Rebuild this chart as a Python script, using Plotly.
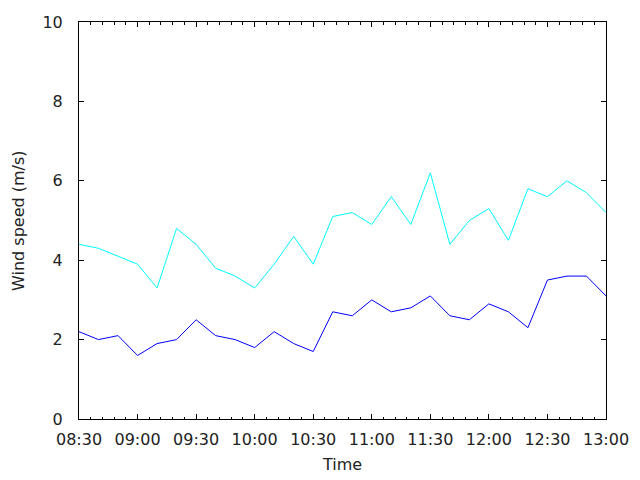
import plotly.graph_objects as go

times = ["08:30", "08:40", "08:50", "09:00", "09:10", "09:20", "09:30", "09:40", "09:50",
         "10:00", "10:10", "10:20", "10:30", "10:40", "10:50", "11:00", "11:10", "11:20",
         "11:30", "11:40", "11:50", "12:00", "12:10", "12:20", "12:30", "12:40", "12:50", "13:00"]
gust = [4.4, 4.3, 4.1, 3.9, 3.3, 4.8, 4.4, 3.8, 3.6, 3.3, 3.9, 4.6, 3.9, 5.1, 5.2, 4.9, 5.6, 4.9,
        6.2, 4.4, 5.0, 5.3, 4.5, 5.8, 5.6, 6.0, 5.7, 5.2]
mean = [2.2, 2.0, 2.1, 1.6, 1.9, 2.0, 2.5, 2.1, 2.0, 1.8, 2.2, 1.9, 1.7, 2.7, 2.6, 3.0, 2.7, 2.8,
        3.1, 2.6, 2.5, 2.9, 2.7, 2.3, 3.5, 3.6, 3.6, 3.1]
y_title = "Wind speed (m/s)"
x_title = "Time"

x = ["2000-01-01 " + t for t in times]

FONT = "DejaVu Sans"
FS = 16
TXT = "#222222"

fig = go.Figure()
fig.add_trace(go.Scatter(x=x, y=gust, mode="lines", line=dict(color="#00ffff", width=1), showlegend=False))
fig.add_trace(go.Scatter(x=x, y=mean, mode="lines", line=dict(color="#0000ff", width=1), showlegend=False))

# the page body adds an 8px offset, so the figure is 632x472 and margins are shifted
fig.update_layout(
    width=632, height=472,
    margin=dict(l=71, r=34, t=14, b=61, autoexpand=False),
    paper_bgcolor="white", plot_bgcolor="white",
    font=dict(family=FONT, size=FS, color=TXT),
)
fig.update_xaxes(
    type="date",
    range=["2000-01-01 08:30", "2000-01-01 13:00"],
    tickformat="%H:%M",
    dtick=30 * 60 * 1000,
    tick0="2000-01-01 08:30",
    ticks="inside", ticklen=5, tickcolor="black", tickwidth=1,
    minor=dict(dtick=6 * 60 * 1000, ticks="inside", ticklen=2.5, tickcolor="black", tickwidth=1, showgrid=False),
    showline=True, linecolor="black", linewidth=1, mirror="ticks",
    showgrid=False, zeroline=False, automargin=False,
    title=dict(text=x_title, standoff=10, font=dict(family=FONT, size=FS, color=TXT)),
    tickfont=dict(family=FONT, size=FS, color=TXT),
    ticklabelstandoff=6,
)
fig.update_yaxes(
    range=[0, 10], dtick=2,
    ticks="inside", ticklen=5, tickcolor="black", tickwidth=1,
    showline=True, linecolor="black", linewidth=1, mirror="ticks",
    showgrid=False, zeroline=False, automargin=False,
    tickfont=dict(family=FONT, size=FS, color=TXT),
    ticklabelstandoff=12,
)
fig.add_annotation(
    text=y_title, textangle=-90, xref="paper", yref="paper",
    x=-0.1148, y=0.5, xanchor="center", yanchor="middle", showarrow=False,
    borderpad=0,
    font=dict(family=FONT, size=FS, color=TXT),
)

fig.write_html("out.html")
